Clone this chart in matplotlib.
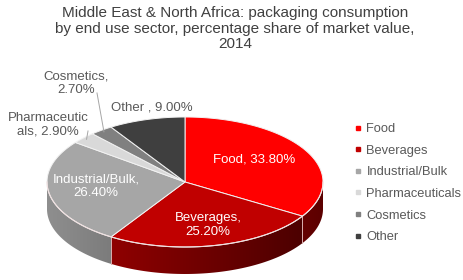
import numpy as np
import matplotlib
matplotlib.use('Agg')
import matplotlib.pyplot as plt
from matplotlib.patches import Polygon
from matplotlib.lines import Line2D

plt.rcParams['font.family'] = ['Liberation Sans', 'DejaVu Sans']

# ---- data ----
sectors = ['Food', 'Beverages', 'Industrial/Bulk', 'Pharmaceuticals', 'Cosmetics', 'Other']
shares = [33.8, 25.2, 26.4, 2.9, 2.7, 9.0]
slice_labels = ['Food, 33.80%', 'Beverages,\n25.20%', 'Industrial/Bulk,\n26.40%',
                'Pharmaceutic\nals, 2.90%', 'Cosmetics,\n2.70%', 'Other , 9.00%']
colors = ['#FF0000', '#C00000', '#A6A6A6', '#D9D9D9', '#808080', '#3F3F3F']
title = ('Middle East & North Africa: packaging consumption\n'
         'by end use sector, percentage share of market value,\n2014')

# ---- layout (pixel space) ----
W, H = 464, 280
CX, CY, RX, RY, DEPTH = 185, 182, 138, 65, 27

fig = plt.figure(figsize=(W / 100, H / 100), dpi=100)
ax = fig.add_axes([0, 0, 1, 1])


def pt(theta_deg, dy=0.0):
    # angle measured clockwise from 12 o'clock
    t = np.radians(theta_deg)
    return CX + RX * np.sin(t), CY - RY * np.cos(t) + dy


fracs = np.array(shares) / sum(shares)
bounds = np.concatenate([[0], np.cumsum(fracs) * 360])

# side walls (only the front half, 90..270 deg, is visible), shaded darker to the right
for i, c in enumerate(colors):
    a0, a1 = max(bounds[i], 90), min(bounds[i + 1], 270)
    if a1 <= a0:
        continue
    th = np.linspace(a0, a1, 60)
    xs, ys = pt(th)
    verts = list(zip(xs, ys)) + list(zip(xs[::-1], ys[::-1] + DEPTH))
    poly = Polygon(verts, closed=True, facecolor='none', edgecolor='none')
    ax.add_patch(poly)
    x_lo, x_hi = xs.min(), xs.max()
    y_lo, y_hi = ys.min(), ys.max() + DEPTH
    gx = np.linspace(x_lo, x_hi, 120)
    f = 0.86 - 0.5 * (gx - (CX - RX)) / (2 * RX)
    base = np.array(matplotlib.colors.to_rgb(c))
    img = np.clip(f[None, :, None] * base[None, None, :], 0, 1)
    img = np.repeat(img, 2, axis=0)
    im = ax.imshow(img, extent=(x_lo, x_hi, y_hi, y_lo), aspect='auto',
                   interpolation='bilinear', zorder=1)
    im.set_clip_path(poly)
    for a in (bounds[i], bounds[i + 1]):
        if 90 < a < 270:
            x, y = pt(a)
            ax.plot([x, x], [y, y + DEPTH], color='#d9b0b0', lw=0.6, zorder=2)

# top faces
for i, c in enumerate(colors):
    th = np.linspace(bounds[i], bounds[i + 1], 80)
    xs, ys = pt(th)
    verts = [(CX, CY)] + list(zip(xs, ys))
    ax.add_patch(Polygon(verts, closed=True, facecolor=c, edgecolor='#f2f2f2',
                         linewidth=0.7, zorder=3))

# light rim along the front edge
th = np.linspace(90, 270, 120)
xs, ys = pt(th)
ax.plot(xs, ys, color='#f0e0e0', lw=0.8, zorder=4)

# labels
label_pos = [(254, 159), (208, 225), (96, 186), (48, 125), (76, 83), (152, 108)]
label_col = ['white', 'white', 'white', '#595959', '#595959', '#595959']
for txt, (x, y), col in zip(slice_labels, label_pos, label_col):
    ax.text(x, y, txt, ha='center', va='center', fontsize=9.5, color=col,
            linespacing=1.15, zorder=5)

# leader lines for small slices
for i, (lx, ly) in [(3, (88, 131)), (4, (97, 93))]:
    mid = 0.5 * (bounds[i] + bounds[i + 1])
    px, py = pt(mid)
    px, py = CX + (px - CX) * 0.97, CY + (py - CY) * 0.97
    ax.plot([lx, px], [ly, py], color='#a6a6a6', lw=0.7, zorder=5)

ax.text(W / 2 + 3, 6, title, ha='center', va='top', fontsize=11, color='#404040',
        linespacing=1.15)

handles = [Line2D([], [], marker='s', ls='', markersize=3, color=c) for c in colors]
ax.legend(handles, sectors, loc='upper left', bbox_to_anchor=(349 / W, 1 - 118 / H),
          frameon=False, fontsize=9.3, handlelength=0.6, handletextpad=0.35,
          labelspacing=0.74, labelcolor='#595959', borderaxespad=0)

ax.set_xlim(0, W)
ax.set_ylim(H, 0)
ax.axis('off')

fig.savefig('out.png', dpi=100)
